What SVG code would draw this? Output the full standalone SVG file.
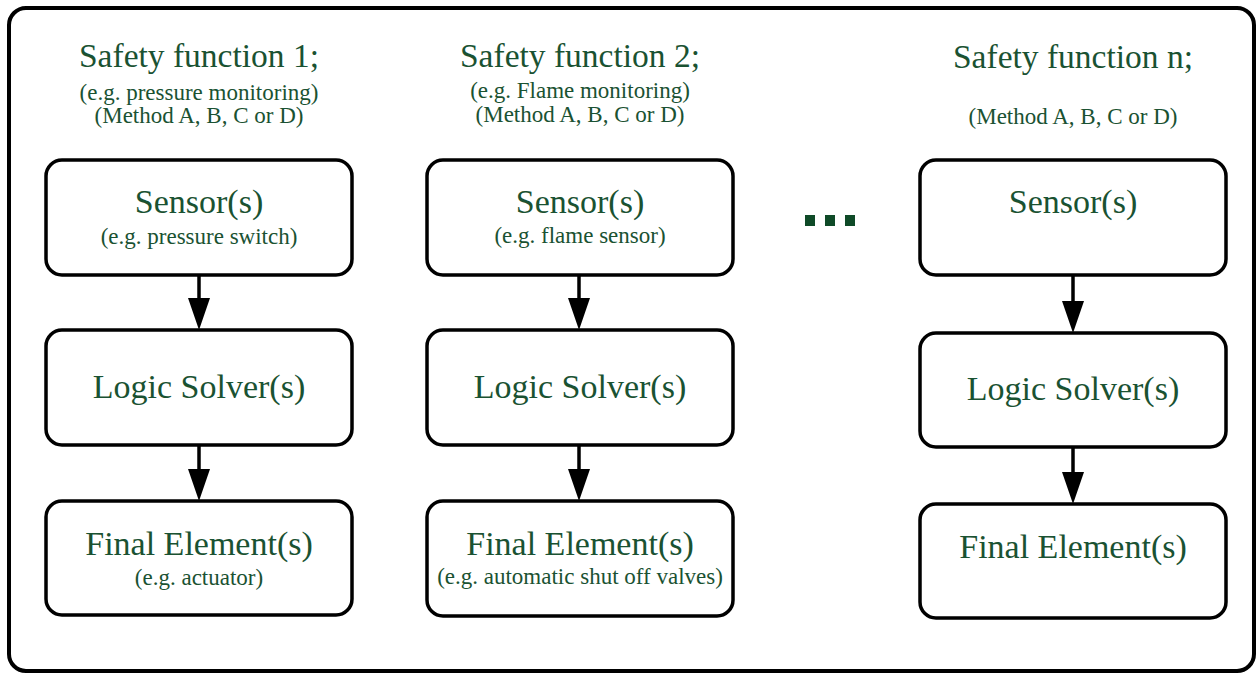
<svg xmlns="http://www.w3.org/2000/svg" width="1257" height="675" viewBox="0 0 1257 675">
<defs>
<style>
.frame{fill:#fff;stroke:#000;stroke-width:4}
.box{fill:#fff;stroke:#000;stroke-width:3.5}
.t{font-family:"Liberation Serif","Times New Roman",serif;fill:#1a5232;text-anchor:middle}
.ttl{font-size:33.5px}
.big{font-size:34px}
.sm{font-size:23px}
.conn{stroke:#000;stroke-width:3.5;fill:none}
.head{fill:#000}
.dot{fill:#0f4a28}
</style>
</defs>
<rect width="1257" height="675" fill="#fff"/>
<rect class="frame" x="9" y="8" width="1245" height="663" rx="17"/>

<g id="titles">
<text class="t ttl" x="199" y="67">Safety function 1;</text>
<text class="t sm" x="199" y="100">(e.g. pressure monitoring)</text>
<text class="t sm" x="199" y="123">(Method A, B, C or D)</text>
<text class="t ttl" x="580" y="67">Safety function 2;</text>
<text class="t sm" x="580" y="98">(e.g. Flame monitoring)</text>
<text class="t sm" x="580" y="122">(Method A, B, C or D)</text>
<text class="t ttl" x="1073" y="68">Safety function n;</text>
<text class="t sm" x="1073" y="124">(Method A, B, C or D)</text>
</g>

<g id="sensor1">
<rect class="box" x="46" y="160" width="306" height="115" rx="16"/>
<text class="t big" x="199" y="213">Sensor(s)</text>
<text class="t sm" x="199" y="244">(e.g. pressure switch)</text>
</g>
<g id="logic1">
<rect class="box" x="46" y="330" width="306" height="115" rx="16"/>
<text class="t big" x="199" y="398">Logic Solver(s)</text>
</g>
<g id="final1">
<rect class="box" x="46" y="501" width="306" height="114" rx="16"/>
<text class="t big" x="199" y="555">Final Element(s)</text>
<text class="t sm" x="199" y="585">(e.g. actuator)</text>
</g>

<g id="sensor2">
<rect class="box" x="427" y="160" width="306" height="115" rx="16"/>
<text class="t big" x="580" y="213">Sensor(s)</text>
<text class="t sm" x="580" y="243">(e.g. flame sensor)</text>
</g>
<g id="logic2">
<rect class="box" x="427" y="330" width="306" height="115" rx="16"/>
<text class="t big" x="580" y="398">Logic Solver(s)</text>
</g>
<g id="final2">
<rect class="box" x="427" y="501" width="306" height="115" rx="16"/>
<text class="t big" x="580" y="555">Final Element(s)</text>
<text class="t sm" x="580" y="584">(e.g. automatic shut off valves)</text>
</g>

<g id="sensor3">
<rect class="box" x="920" y="160" width="306" height="115" rx="16"/>
<text class="t big" x="1073" y="213">Sensor(s)</text>
</g>
<g id="logic3">
<rect class="box" x="920" y="333" width="306" height="114" rx="16"/>
<text class="t big" x="1073" y="400">Logic Solver(s)</text>
</g>
<g id="final3">
<rect class="box" x="920" y="504" width="306" height="114" rx="16"/>
<text class="t big" x="1073" y="558">Final Element(s)</text>
</g>

<g id="ellipsis">
<rect class="dot" x="805" y="215" width="10" height="11"/>
<rect class="dot" x="825" y="215" width="10" height="11"/>
<rect class="dot" x="845" y="215" width="10" height="11"/>
</g>

<g id="connectors">
<line class="conn" x1="199" y1="275" x2="199" y2="302"/>
<polygon class="head" points="188,298 210,298 199,330"/>
<line class="conn" x1="199" y1="445" x2="199" y2="473"/>
<polygon class="head" points="188,469 210,469 199,501"/>
<line class="conn" x1="579" y1="275" x2="579" y2="302"/>
<polygon class="head" points="568,298 590,298 579,330"/>
<line class="conn" x1="579" y1="445" x2="579" y2="473"/>
<polygon class="head" points="568,469 590,469 579,501"/>
<line class="conn" x1="1073" y1="275" x2="1073" y2="305"/>
<polygon class="head" points="1062,301 1084,301 1073,333"/>
<line class="conn" x1="1073" y1="447" x2="1073" y2="476"/>
<polygon class="head" points="1062,472 1084,472 1073,504"/>
</g>
</svg>
